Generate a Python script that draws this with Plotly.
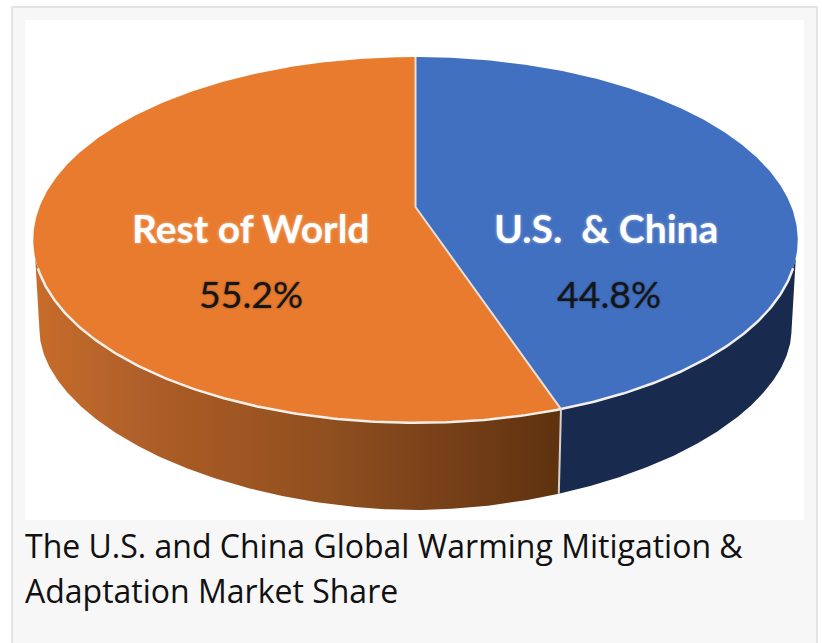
import numpy as np
import plotly.graph_objects as go

# ---- data ----
categories = ["U.S.  & China", "Rest of World"]
shares = [44.8, 55.2]
caption_lines = ["The U.S. and China Global Warming Mitigation &", "Adaptation Market Share"]

# ---- tilted-disc projection, page pixel units on the axes ----
CX, APEX_Y, R, S, K = 415.5, 207.0, 376.0, 177.0, 0.18
CX_TOP_SHIFT = 0.0
BOTTOM_A, BOTTOM_B, BOTTOM_CY, BOTTOM_N = 376.0, 179.3, 330.7, 1.88
SEAM_X_SCALE = 0.985


def top_xy(deg):
    t = np.radians(np.asarray(deg, dtype=float))
    u, v = np.sin(t), np.cos(t)
    w = 1 + K * v
    return CX + R * u / w, APEX_Y - S * v / w


def bottom_y(dx):
    """Lower rim height for a horizontal offset from the disc axis."""
    r = np.clip(np.abs(dx) / BOTTOM_A, 0, 1)
    return BOTTOM_CY + BOTTOM_B * (1 - r ** BOTTOM_N) ** (1 / BOTTOM_N)


def bottom_curve(dx0, dx1):
    # denser near the extreme ends, where the rim turns vertical
    p = np.linspace(0, 1, 200)
    s0 = np.sign(dx0) * np.arcsin(min(1, abs(dx0) / BOTTOM_A))
    s1 = np.sign(dx1) * np.arcsin(min(1, abs(dx1) / BOTTOM_A))
    dx = BOTTOM_A * np.sin(s0 + (s1 - s0) * p)
    return CX + dx, bottom_y(dx)


seam = shares[0] / sum(shares) * 360.0
RIM_RIGHT, RIM_LEFT = 109.0, 251.0
BAND_RIGHT, BAND_LEFT = 106.0, 254.0

xs0, ys0 = top_xy(seam)
seam_dx = SEAM_X_SCALE * (xs0 - CX)
xs1, ys1 = CX + seam_dx, float(bottom_y(seam_dx))

fig = go.Figure()


def band(a0, a1, dx_from, dx_to, **kw):
    xt, yt = top_xy(np.linspace(a0, a1, 160))
    xb, yb = bottom_curve(dx_from, dx_to)
    fig.add_trace(go.Scatter(x=np.r_[xt, xb], y=np.r_[yt, yb], mode="lines", fill="toself",
                             line=dict(width=0), hoverinfo="skip", showlegend=False, **kw))


def wedge(a0, a1, color):
    xt, yt = top_xy(np.linspace(a0, a1, 300))
    fig.add_trace(go.Scatter(x=np.r_[CX, xt, CX], y=np.r_[APEX_Y, yt, APEX_Y], mode="lines", fill="toself",
                             fillcolor=color, line=dict(width=0, color=color),
                             hoverinfo="skip", showlegend=False))


def stroke(x, y, color, width):
    fig.add_trace(go.Scatter(x=x, y=y, mode="lines", line=dict(color=color, width=width),
                             hoverinfo="skip", showlegend=False))


band(BAND_RIGHT, seam, seam_dx, BOTTOM_A, fillcolor="#182A4D")
band(seam, BAND_LEFT, -BOTTOM_A, seam_dx, fillcolor="rgba(0,0,0,0)",
     fillgradient=dict(type="horizontal",
                       colorscale=[[0.0, "#C76C2A"], [0.19, "#B0602A"], [0.29, "#A85A24"],
                                   [0.56, "#8F4F1F"], [0.73, "#7D431A"], [1.0, "#5E320F"]]))
wedge(seam, 360.0, "#E97B2F")
wedge(0.0, seam, "#4270C1")

# rim, seam and slice borders
stroke(*top_xy(np.linspace(RIM_RIGHT, RIM_LEFT, 240)), "#F3EFEA", 2.5)
stroke([xs0, xs1], [ys0, ys1], "#D5D2CC", 2)
x_top, y_top = top_xy(0.0)
stroke([x_top, CX, xs0], [y_top, APEX_Y, ys0], "#E6E0DA", 2)

SOFT_W = "0 0 3px rgba(255,255,255,0.5)"
SOFT_K = "0 0 2px rgba(0,0,0,0.5)"
label_pos = {categories[0]: (605.5, 228, 608.5, 293.5), categories[1]: (251, 228, 250.5, 293.5)}
annotations = []
for name, share in zip(categories, shares):
    xn, yn, xp, yp = label_pos[name]
    annotations.append(dict(x=xn, y=yn, text=f"<b>{name}</b>", showarrow=False,
                            font=dict(family="Lato", size=39, color="#FFFFFF", shadow=SOFT_W)))
    annotations.append(dict(x=xp, y=yp, text=f"{share}%", showarrow=False,
                            font=dict(family="Lato", size=37.5, color="#151515", shadow=SOFT_K)))
for line, yc in zip(caption_lines, [545, 590]):
    annotations.append(dict(x=23, y=yc, text=line, showarrow=False, xanchor="left",
                            font=dict(family="Open Sans", size=32, color="#111111")))

fig.update_layout(
    width=822, height=643, margin=dict(l=0, r=0, t=0, b=0),
    paper_bgcolor="#FFFFFF", plot_bgcolor="#FFFFFF", showlegend=False,
    xaxis=dict(range=[0, 822], visible=False, fixedrange=True),
    yaxis=dict(range=[643, 0], visible=False, fixedrange=True),
    annotations=annotations,
    shapes=[
        dict(type="rect", xref="x", yref="y", x0=12, x1=817, y0=7, y1=680, layer="below",
             fillcolor="#F7F7F7", line=dict(color="#E4E4E4", width=2)),
        dict(type="rect", xref="x", yref="y", x0=25, x1=804, y0=20, y1=520, layer="below",
             fillcolor="#FFFFFF", line=dict(width=0)),
    ],
)

fig.write_html("out.html", config={"displayModeBar": False},
               post_script="document.body.style.margin='0';document.body.style.overflow='hidden';")
